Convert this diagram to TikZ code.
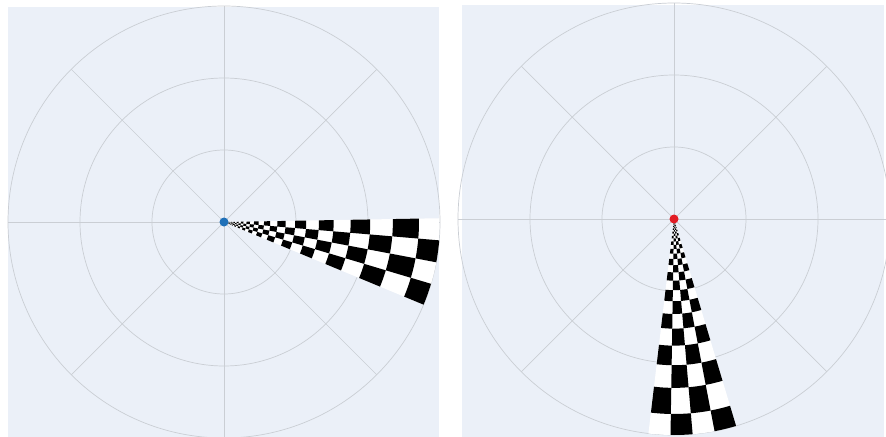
\documentclass[tikz,border=0pt]{standalone}
\usepackage{tikz}
\usetikzlibrary{calc}

\definecolor{panelbg}{RGB}{235,240,248}
\definecolor{gridgray}{RGB}{202,206,212}
\definecolor{dotblue}{RGB}{31,112,184}
\definecolor{dotred}{RGB}{226,28,36}

% checker cells of a log-polar wedge: #1 = first edge angle, #2 = angular step
\newcommand{\wedgechecks}[2]{%
  \foreach \k in {0,...,30}{
    \foreach \j in {0,...,3}{
      \pgfmathtruncatemacro{\odd}{mod(\k+\j,2)}
      \ifnum\odd=1
        \pgfmathsetmacro{\ri}{195*pow(1.155,-\k)}
        \pgfmathsetmacro{\ro}{195*pow(1.155,1-\k)}
        \pgfmathsetmacro{\aa}{#1+#2*\j}
        \pgfmathsetmacro{\ab}{\aa+#2}
        \fill[black] (\aa:\ri) arc[start angle=\aa, end angle=\ab, radius=\ri]
          -- (\ab:\ro) arc[start angle=\ab, end angle=\aa, radius=\ro] -- cycle;
      \fi
    }
  }%
}

\begin{document}
\begin{tikzpicture}[
  x=0.03cm, y=0.03cm,
  panel/.style={fill=panelbg, draw=none},
  gridline/.style={draw=gridgray, line width=0.6pt},
  centerdot/.style={circle, inner sep=0pt, minimum size=0.27cm}
]
\useasboundingbox (0,0) rectangle (886,436);
\fill[white] (0,0) rectangle (886,436);

% left panel
\fill[panel] (8,-4) rectangle (439,429);
\begin{scope}[shift={(224,214)}]
  \foreach \r in {72,144,216} \draw[gridline] (0,0) circle (\r);
  \foreach \a in {0,45,...,315} \draw[gridline] (0,0) -- (\a:216);
  \begin{scope}
    \clip (0,0) circle (216);
    \clip (-216,-218) rectangle (215,215);
    \fill[white] (0,0) -- (1:230) arc[start angle=1, end angle=-22.5, radius=230] -- cycle;
    \wedgechecks{1}{-5.875}
  \end{scope}
  \node[centerdot, fill=dotblue] (originL) at (0,0) {};
\end{scope}

% right panel
\fill[panel] (462,-4) rectangle (884,431);
\begin{scope}[shift={(674,217)}]
  \foreach \r in {72,144,216} \draw[gridline] (0,0) circle (\r);
  \foreach \a in {0,45,...,315} \draw[gridline] (0,0) -- (\a:216);
  \begin{scope}
    \clip (0,0) circle (216);
    \fill[white] (0,0) -- (-96.8:230) arc[start angle=-96.8, end angle=-73.3, radius=230] -- cycle;
    \wedgechecks{-96.8}{5.875}
  \end{scope}
  \node[centerdot, fill=dotred] (originR) at (0,0) {};
\end{scope}
\end{tikzpicture}
\end{document}
